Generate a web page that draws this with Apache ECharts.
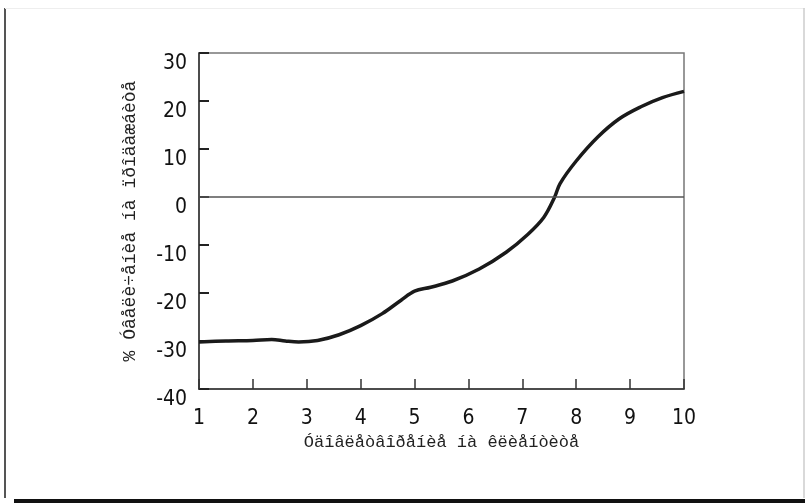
<!DOCTYPE html>
<html>
<head>
<meta charset="utf-8">
<script src="https://cdn.jsdelivr.net/npm/echarts@6/dist/echarts.min.js"></script>
<style>
html,body{margin:0;padding:0;background:#fff;}
#chart{width:805px;height:503px;}
</style>
</head>
<body>
<div id="chart"></div>
<script>
// ---- data ----
const xValues = [1.0, 1.5, 2.0, 2.35, 2.6, 2.85, 3.2, 3.6, 4.0, 4.4, 4.75, 5.0, 5.3, 5.7, 6.2, 6.7, 7.1, 7.4, 7.6, 7.7, 8.0, 8.4, 8.8, 9.2, 9.6, 10.0];
const yValues = [-30.2, -30.0, -29.9, -29.7, -30.0, -30.2, -29.9, -28.7, -26.8, -24.3, -21.5, -19.6, -18.8, -17.5, -15.0, -11.5, -7.8, -4.2, 0.0, 2.8, 7.5, 12.5, 16.3, 18.8, 20.7, 22.0];
const xAxisMin = 1, xAxisMax = 10, xAxisStep = 1;
const yAxisMin = -40, yAxisMax = 30, yAxisStep = 10;
const xAxisTitle = 'Óäîâëåòâîðåíèå íà êëèåíòèòå';
const yAxisTitle = '% Óâåëè÷åíèå íà ïðîäàæáèòå';

const seriesData = xValues.map((x, i) => [x, yValues[i]]);

const labelFont = '"DejaVu Sans Condensed", "DejaVu Sans", sans-serif';
const titleFont = '"Liberation Mono", "DejaVu Sans Mono", monospace';

const chart = echarts.init(document.getElementById('chart'), null, {renderer: 'canvas'});
chart.setOption({
  animation: false,
  backgroundColor: '#fff',
  grid: {
    left: 199, right: 121, top: 53, bottom: 114,
    show: true, borderColor: '#777', borderWidth: 1.5, backgroundColor: 'transparent'
  },
  xAxis: {
    type: 'value',
    min: xAxisMin, max: xAxisMax, interval: xAxisStep,
    name: xAxisTitle,
    nameLocation: 'middle',
    nameGap: 45,
    nameTextStyle: {fontFamily: titleFont, fontSize: 17, color: '#222'},
    axisLine: {show: true, onZero: false, lineStyle: {color: '#333', width: 1.5}},
    axisTick: {show: true, inside: true, length: 10, lineStyle: {color: '#333', width: 1.5}},
    axisLabel: {show: true, margin: 19, fontFamily: labelFont, fontSize: 21, color: '#111',
      showMinLabel: true, showMaxLabel: true, hideOverlap: false},
    splitLine: {show: false}
  },
  yAxis: {
    type: 'value',
    min: yAxisMin, max: yAxisMax, interval: yAxisStep,
    name: yAxisTitle,
    nameLocation: 'middle',
    nameGap: 60,
    nameRotate: 90,
    nameTextStyle: {fontFamily: titleFont, fontSize: 18, color: '#222'},
    axisLine: {show: true, onZero: false, lineStyle: {color: '#333', width: 1.5}},
    axisTick: {show: true, inside: true, length: 10, lineStyle: {color: '#222', width: 2}},
    axisLabel: {show: true, margin: 12, color: '#111',
      formatter: v => '{gap| }\n{num|' + v + '}',
      rich: {
        gap: {fontSize: 8, lineHeight: 21, fontFamily: labelFont},
        num: {fontSize: 21, lineHeight: 21, fontFamily: labelFont, color: '#111'}
      },
      showMinLabel: true, showMaxLabel: true, hideOverlap: false},
    splitLine: {show: false}
  },
  graphic: [
    {type: 'line', shape: {x1: 5, y1: 8, x2: 5, y2: 498}, style: {stroke: '#555', lineWidth: 2}},
    {type: 'line', shape: {x1: 5, y1: 8.5, x2: 805, y2: 8.5}, style: {stroke: '#eee', lineWidth: 1}},
    {type: 'line', shape: {x1: 804, y1: 8, x2: 804, y2: 498}, style: {stroke: '#ccc', lineWidth: 1.5}},
    {type: 'rect', shape: {x: 14, y: 499, width: 791, height: 4}, style: {fill: '#111'}}
  ],
  series: [{
    type: 'line',
    data: seriesData,
    smooth: 0.35,
    showSymbol: false,
    symbol: 'none',
    lineStyle: {color: '#1a1a1a', width: 3.5},
    markLine: {
      silent: true,
      symbol: 'none',
      label: {show: false},
      lineStyle: {color: '#555', width: 1.5, type: 'solid'},
      data: [{yAxis: 0}]
    },
    z: 3
  }]
});
</script>
</body>
</html>
